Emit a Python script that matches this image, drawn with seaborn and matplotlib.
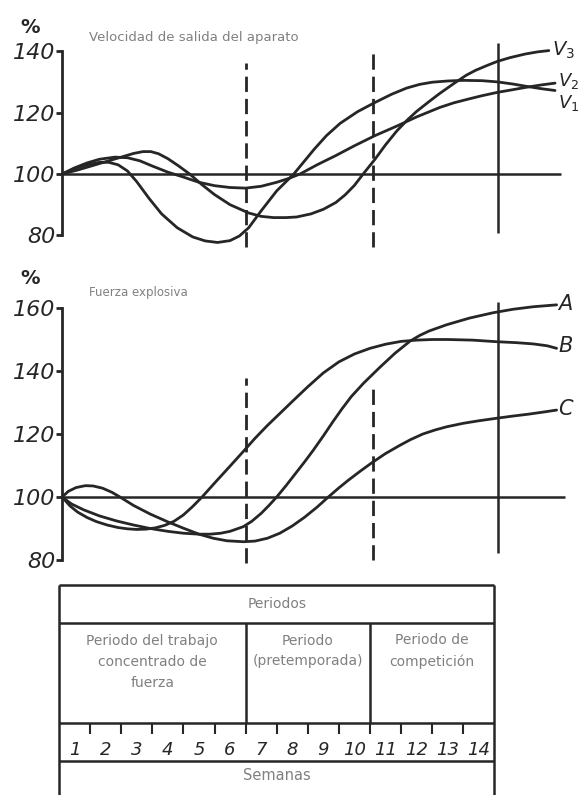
import matplotlib
matplotlib.use("Agg")
import matplotlib.pyplot as plt
import seaborn as sns

# --- data (x = weeks from start of week 1, y = % of start level) ---
v1_weeks = [0.1, 0.5, 0.9, 1.3, 1.6, 1.9, 2.2, 2.5, 2.9, 3.3, 3.8, 4.3, 4.7, 5.1, 5.5, 5.8,
            6.1, 6.5, 7.0, 7.55, 8.2, 8.6, 9.04, 9.6, 10.16, 10.7, 11.18, 11.6, 12.0, 12.5,
            13.0, 13.6, 14.1, 14.6, 15.0, 15.5, 15.95]
v1_vals = [100, 101.8, 103, 103.8, 103.8, 103, 101, 97.5, 92, 87, 82.5, 79.5, 78.2, 77.7, 78.3,
           79.8, 82.5, 88, 94.5, 100, 108, 112.5, 116.5, 120.3, 123.3, 126, 128, 129.2, 129.9,
           130.3, 130.5, 130.4, 130, 129.3, 128.6, 127.8, 127.2]

v2_weeks = [0.1, 0.5, 0.9, 1.3, 1.8, 2.2, 2.6, 3.0, 3.5, 4.0, 4.5, 5.0, 5.5, 6.0, 6.5, 7.0,
            7.4, 7.75, 8.3, 8.9, 9.5, 10.16, 10.86, 11.5, 12.25, 12.7, 13.2, 13.6, 14.1, 14.5,
            15.0, 15.5, 15.95]
v2_vals = [100, 102, 103.6, 104.8, 105.5, 105.3, 104.3, 102.6, 100.6, 99, 97.3, 96.2, 95.6, 95.4,
           96, 97.3, 98.6, 100, 103, 106, 109.2, 112.5, 115.6, 118.6, 121.7, 123.2, 124.5, 125.5,
           126.6, 127.3, 128.2, 129, 129.6]

v3_weeks = [0.1, 0.6, 1.0, 1.5, 2.0, 2.4, 2.7, 2.95, 3.2, 3.5, 3.85, 4.2, 4.6, 5.0, 5.5, 6.1,
            6.5, 6.9, 7.3, 7.64, 8.1, 8.5, 8.9, 9.2, 9.5, 9.78, 10.16, 10.5, 10.86, 11.2, 11.5,
            11.9, 12.25, 12.7, 13.1, 13.4, 13.8, 14.1, 14.5, 15.0, 15.4, 15.75]
v3_vals = [100, 101.3, 102.5, 104, 105.5, 106.7, 107.3, 107.3, 106.6, 105, 102.6, 100, 96.5,
           93.3, 90, 87.3, 86.2, 85.8, 85.8, 86, 87, 88.5, 90.7, 93.2, 96.3, 100, 104.8, 109.5,
           114, 117.6, 120.4, 123.6, 126.3, 129.5, 132.2, 133.8, 135.5, 136.7, 137.9, 139.1,
           139.8, 140.2]

a_weeks = [0.1, 0.4, 0.8, 1.3, 1.85, 2.4, 2.93, 3.5, 4.0, 4.5, 4.86, 5.2, 5.5, 5.93, 6.2, 6.5,
           6.75, 7.0, 7.3, 7.6, 7.9, 8.18, 8.5, 8.8, 9.1, 9.4, 9.8, 10.32, 10.8, 11.29, 11.6,
           11.9, 12.47, 13.2, 13.96, 14.6, 15.25, 16.0]
a_vals = [100, 97.8, 95.9, 94, 92.4, 91.1, 90, 89.1, 88.5, 88.2, 88.2, 88.5, 89.1, 90.6, 92.3,
          94.8, 97.3, 100, 103.6, 107.4, 111.2, 114.9, 119.4, 123.8, 128, 131.9, 136.2, 141.2,
          145.6, 149.5, 151.3, 152.7, 154.7, 156.8, 158.5, 159.6, 160.4, 161]

b_weeks = [0.1, 0.35, 0.6, 0.9, 1.2, 1.55, 1.9, 2.2, 2.5, 2.8, 3.1, 3.4, 3.7, 4.0, 4.3, 4.6,
           5.0, 5.5, 5.93, 6.3, 6.7, 7.1, 7.53, 8.0, 8.5, 9.0, 9.5, 10.0, 10.5, 11.0, 11.5,
           12.0, 12.5, 13.3, 14.07, 14.7, 15.25, 15.7, 16.0]
b_vals = [100, 97.2, 95.2, 93.5, 92.2, 91.1, 90.3, 89.9, 89.7, 89.8, 90.2, 91, 92.3, 94.3, 97,
          100, 104.4, 109.8, 114.5, 118.6, 122.7, 126.5, 130.6, 135, 139.4, 142.9, 145.4, 147.2,
          148.5, 149.4, 149.8, 150, 150, 149.8, 149.3, 149, 148.6, 148, 147.2]

c_weeks = [0.1, 0.3, 0.55, 0.85, 1.1, 1.4, 1.7, 1.96, 2.4, 2.93, 3.5, 4.0, 4.5, 4.96, 5.4,
           5.93, 6.3, 6.7, 7.1, 7.5, 7.9, 8.3, 8.66, 9.0, 9.3, 9.7, 10.05, 10.5, 10.96, 11.3,
           11.7, 12.1, 12.47, 13.0, 13.5, 14.07, 14.6, 15.1, 15.6, 16.0]
c_vals = [100, 101.8, 103, 103.6, 103.5, 102.8, 101.5, 100, 97.3, 94.6, 92.1, 90.1, 88.2, 86.9,
          86.1, 85.8, 86, 86.9, 88.5, 90.8, 93.6, 96.8, 100, 102.9, 105.3, 108.3, 110.8, 113.8,
          116.4, 118.2, 120, 121.3, 122.3, 123.4, 124.2, 125, 125.7, 126.3, 127, 127.6]

top_ticks = [80, 100, 120, 140]
mid_ticks = [80, 100, 120, 140, 160]
weeks = list(range(1, 15))
period_bounds = [6, 10]

W, H = 582, 795
PX_WEEK = 31.1
X0 = 59
XLIM = (-X0 / PX_WEEK, (W - X0) / PX_WEEK)
INK = "#262626"
GREY = "#808080"
DASH = (0, (5.5, 2.5))

sns.set_style("white")
plt.rcParams["font.family"] = ["DejaVu Sans"]
plt.rcParams["mathtext.fontset"] = "dejavusans"

fig = plt.figure(figsize=(W / 100, H / 100), dpi=100)


def panel(top_px, bot_px, v100_px, px_unit, ticks):
    ax = fig.add_axes([0, 1 - bot_px / H, 1, (bot_px - top_px) / H])
    ax.set_xlim(*XLIM)
    ax.set_ylim(100 + (v100_px - bot_px) / px_unit, 100 + (v100_px - top_px) / px_unit)
    ax.patch.set_alpha(0)
    for s in ("top", "right", "bottom"):
        ax.spines[s].set_visible(False)
    sp = ax.spines["left"]
    sp.set_position(("data", 0.1))
    sp.set_bounds(ticks[0], ticks[-1])
    sp.set_linewidth(2)
    sp.set_color(INK)
    ax.set_xticks([])
    ax.set_yticks(ticks)
    ax.set_yticklabels([str(t) for t in ticks], fontsize=16, style="italic", color=INK)
    ax.tick_params(axis="y", direction="out", length=4, width=2, color=INK, pad=1, left=True)
    return ax


def curve(ax, x, y):
    sns.lineplot(x=x, y=y, ax=ax, color=INK, lw=2, sort=False,
                 solid_capstyle="round", solid_joinstyle="round")
    ax.set_xlabel("")
    ax.set_ylabel("")


# top panel: velocidad
ax1 = panel(0, 260, 174, 3.07, top_ticks)
ax1.hlines(100, 0.1, 16.14, color=INK, lw=1.8)
ax1.vlines(6, 76.2, 136.2, color=INK, lw=2, linestyles=[DASH])
ax1.vlines(10.1, 76.2, 140.4, color=INK, lw=2, linestyles=[DASH])
ax1.vlines(14.1, 80.8, 142.7, color=INK, lw=1.8)
curve(ax1, v1_weeks, v1_vals)
curve(ax1, v2_weeks, v2_vals)
curve(ax1, v3_weeks, v3_vals)
ax1.text(15.85, 140.2, "$V_3$", fontsize=14, color=INK, va="center", ha="left")
ax1.text(16.05, 130.3, "$V_2$", fontsize=13, color=INK, va="center", ha="left")
ax1.text(16.05, 123, "$V_1$", fontsize=13, color=INK, va="center", ha="left")
ax1.text(-0.93, 147.7, "%", fontsize=14, fontweight="bold", color=INK, ha="center", va="center")
ax1.text(0.96, 144.3, "Velocidad de salida del aparato", fontsize=9.5, color=GREY,
         ha="left", va="center")

# middle panel: fuerza explosiva
ax2 = panel(260, 580, 497, 3.15, mid_ticks)
ax2.hlines(100, 0.1, 16.27, color=INK, lw=1.8)
ax2.vlines(6, 79, 137.8, color=INK, lw=2, linestyles=[DASH])
ax2.vlines(10.1, 80, 134.9, color=INK, lw=2, linestyles=[DASH])
ax2.vlines(14.1, 82.2, 161.9, color=INK, lw=1.8)
curve(ax2, a_weeks, a_vals)
curve(ax2, b_weeks, b_vals)
curve(ax2, c_weeks, c_vals)
ax2.text(16.05, 161.3, "A", fontsize=15, style="italic", color=INK, va="center", ha="left")
ax2.text(16.05, 148, "B", fontsize=15, style="italic", color=INK, va="center", ha="left")
ax2.text(16.05, 128, "C", fontsize=15, style="italic", color=INK, va="center", ha="left")
ax2.text(-0.93, 169.5, "%", fontsize=14, fontweight="bold", color=INK, ha="center", va="center")
ax2.text(0.96, 164.8, "Fuerza explosiva", fontsize=8.5, color=GREY, ha="left", va="center")

# bottom: periods / weeks table (y in pixels)
ax3 = fig.add_axes([0, 0, 1, 215 / H])
ax3.set_xlim(*XLIM)
ax3.set_ylim(795, 580)
ax3.axis("off")
for y in (585, 622.7, 723, 760.7):
    ax3.hlines(y, 0, 14, color=INK, lw=1.8)
ax3.vlines([0, 14], 585, 795, color=INK, lw=1.8)
ax3.vlines(period_bounds, 622.7, 723, color=INK, lw=1.8)
ax3.vlines(weeks[:-1], 723, 734, color=INK, lw=1.5)
for w in weeks:
    ax3.text(w - 0.5, 750, str(w), fontsize=13, style="italic", color=INK,
             ha="center", va="center")
ax3.text(7, 604, "Periodos", fontsize=10, color=GREY, ha="center", va="center")
ax3.text(3, 662, "Periodo del trabajo\nconcentrado de\nfuerza", fontsize=10, color=GREY,
         ha="center", va="center", linespacing=1.6)
ax3.text(8, 651, "Periodo\n(pretemporada)", fontsize=10, color=GREY,
         ha="center", va="center", linespacing=1.6)
ax3.text(12, 651, "Periodo de\ncompetición", fontsize=10, color=GREY,
         ha="center", va="center", linespacing=1.6)
ax3.text(7, 775, "Semanas", fontsize=10.5, color=GREY, ha="center", va="center")

fig.savefig("out.png", dpi=100, facecolor="white")
